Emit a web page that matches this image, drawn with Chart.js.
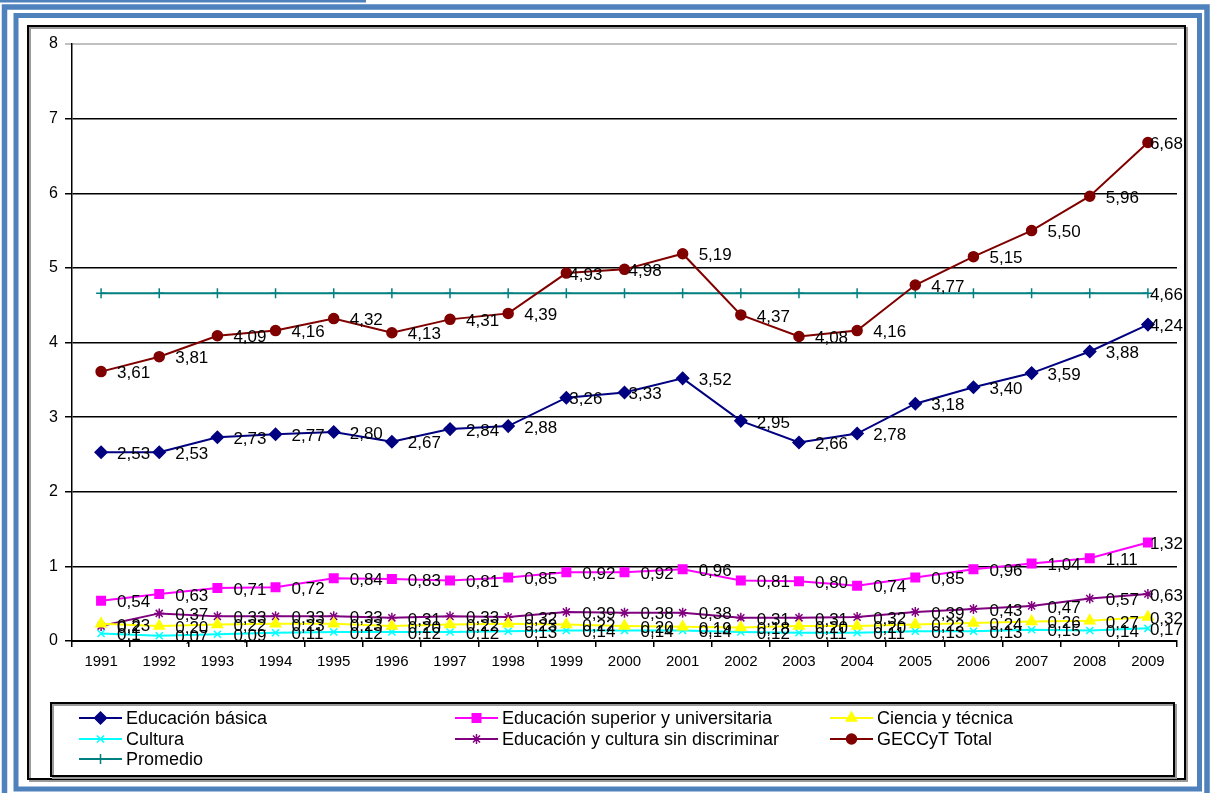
<!DOCTYPE html>
<html><head><meta charset="utf-8">
<script src="https://cdn.jsdelivr.net/npm/chart.js@4.4.0/dist/chart.umd.min.js"></script>
<style>html,body{margin:0;padding:0;background:#fff;overflow:hidden}canvas{display:block}</style>
</head><body>
<canvas id="c" width="1210" height="793"></canvas>
<script>
const years = ['1991','1992','1993','1994','1995','1996','1997','1998','1999','2000','2001','2002','2003','2004','2005','2006','2007','2008','2009'];
const yTicks = [0,1,2,3,4,5,6,7,8];
const educacionBasica = [2.53,2.53,2.73,2.77,2.80,2.67,2.84,2.88,3.26,3.33,3.52,2.95,2.66,2.78,3.18,3.40,3.59,3.88,4.24];
const educacionSuperior = [0.54,0.63,0.71,0.72,0.84,0.83,0.81,0.85,0.92,0.92,0.96,0.81,0.80,0.74,0.85,0.96,1.04,1.11,1.32];
const cienciaTecnica = [0.23,0.20,0.22,0.23,0.23,0.20,0.22,0.23,0.22,0.20,0.19,0.18,0.20,0.20,0.22,0.24,0.26,0.27,0.32];
const cultura = [0.10,0.07,0.09,0.11,0.12,0.12,0.12,0.13,0.14,0.14,0.14,0.12,0.11,0.11,0.13,0.13,0.15,0.14,0.17];
const sinDiscriminar = [0.20,0.37,0.33,0.33,0.33,0.31,0.33,0.32,0.39,0.38,0.38,0.31,0.31,0.32,0.39,0.43,0.47,0.57,0.63];
const geccytTotal = [3.61,3.81,4.09,4.16,4.32,4.13,4.31,4.39,4.93,4.98,5.19,4.37,4.08,4.16,4.77,5.15,5.50,5.96,6.68];
const promedio = [4.66,4.66,4.66,4.66,4.66,4.66,4.66,4.66,4.66,4.66,4.66,4.66,4.66,4.66,4.66,4.66,4.66,4.66,4.66];
// labels shown with one decimal (index of point)
const oneDecimalCultura = [0];
const oneDecimalSinDiscriminar = [0];

const FONT = '"Liberation Sans", Arial, sans-serif';

function mk(label, data, color, style, radius, extra) {
  return Object.assign({
    label, data,
    borderColor: color, backgroundColor: color,
    pointBackgroundColor: color, pointBorderColor: color,
    pointStyle: style, pointRadius: radius, pointHoverRadius: radius,
    pointBorderWidth: 1.5, borderWidth: 2, tension: 0, fill: false
  }, extra || {});
}

const datasets = [
  mk('Educación básica', educacionBasica, '#000080', 'rectRot', 6, {labelShift: {8: -13, 9: -12}}),
  mk('Educación superior y universitaria', educacionSuperior, '#FF00FF', 'rect', 6),
  mk('Ciencia y técnica', cienciaTecnica, '#FFFF00', 'triangle', 6),
  mk('Cultura', cultura, '#00FFFF', 'crossRot', 5, {oneDec: oneDecimalCultura}),
  mk('Educación y cultura sin discriminar', sinDiscriminar, '#800080', 'star', 5, {oneDec: oneDecimalSinDiscriminar}),
  mk('GECCyT Total', geccytTotal, '#800000', 'circle', 5, {labelShift: {8: -13, 9: -12}}),
  mk('Promedio', promedio, '#008080', 'cross', 5, {labelLast: true})
];

function fmt(v, dec) { return v.toFixed(dec).replace('.', ','); }

const framePlugin = {
  id: 'frame',
  beforeDraw(chart) {
    const ctx = chart.ctx;
    ctx.save();
    ctx.fillStyle = '#fff';
    ctx.fillRect(0, 0, chart.width, chart.height);
    ctx.fillStyle = '#4F81BD';
    ctx.fillRect(0, 0, 366, 2.5);
    ctx.strokeStyle = '#4F81BD';
    ctx.lineWidth = 5.5;
    ctx.strokeRect(4.5, 7, 1202.5, 820);
    ctx.lineWidth = 5;
    ctx.strokeRect(16, 15.5, 1183.5, 773.5);
    // chart border
    ctx.strokeStyle = '#9a9a9a';
    ctx.lineWidth = 2;
    ctx.strokeRect(30, 28, 1157, 753);
    ctx.strokeStyle = '#000';
    ctx.strokeRect(28, 26, 1157, 753);
    ctx.restore();
  },
  afterDraw(chart) {
    const ctx = chart.ctx;
    ctx.save();
    ctx.strokeStyle = '#9a9a9a';
    ctx.lineWidth = 2;
    ctx.strokeRect(53, 705, 1123, 73);
    ctx.strokeStyle = '#000';
    ctx.strokeRect(51, 703, 1123, 73);
    const colX = [79, 455, 830];
    const rowY = [718, 739, 759];
    ctx.font = '18px ' + FONT;
    ctx.textBaseline = 'middle';
    chart.data.datasets.forEach((ds, i) => {
      const x = colX[i % 3], y = rowY[Math.floor(i / 3)];
      ctx.strokeStyle = ds.borderColor;
      ctx.lineWidth = 2;
      ctx.beginPath(); ctx.moveTo(x, y); ctx.lineTo(x + 43, y); ctx.stroke();
      ctx.fillStyle = ds.pointBackgroundColor;
      ctx.strokeStyle = ds.pointBorderColor;
      ctx.lineWidth = 1.5;
      Chart.helpers.drawPoint(ctx, {pointStyle: ds.pointStyle, radius: ds.pointRadius, rotation: 0, borderWidth: 1.5}, x + 21.5, y);
      ctx.fillStyle = '#000';
      ctx.textAlign = 'left';
      ctx.fillText(ds.label, x + 47, y + 1);
    });
    ctx.restore();
  }
};

const labelPlugin = {
  id: 'vlabels',
  afterDatasetsDraw(chart) {
    const ctx = chart.ctx;
    ctx.save();
    ctx.font = '17px ' + FONT;
    ctx.fillStyle = '#000';
    ctx.textBaseline = 'middle';
    ctx.textAlign = 'left';
    chart.data.datasets.forEach((ds, i) => {
      const meta = chart.getDatasetMeta(i);
      meta.data.forEach((pt, j) => {
        if (ds.labelLast && j !== meta.data.length - 1) return;
        const dec = (ds.oneDec && ds.oneDec.includes(j)) ? 1 : 2;
        const txt = fmt(ds.data[j], dec);
        const w = ctx.measureText(txt).width;
        let x = pt.x + 16 + ((ds.labelShift && ds.labelShift[j]) || 0);
        if (x + w > 1183) x = 1183 - w;
        ctx.fillText(txt, x, pt.y + 2);
      });
    });
    ctx.restore();
  }
};

new Chart(document.getElementById('c'), {
  type: 'line',
  data: { labels: years, datasets },
  plugins: [framePlugin, labelPlugin],
  options: {
    responsive: false,
    animation: false,
    events: [],
    layout: { padding: { left: 30, right: 33, top: 44, bottom: 122 } },
    plugins: { legend: { display: false }, tooltip: { enabled: false } },
    scales: {
      x: {
        offset: true,
        afterFit(s) { s.height = 30; },
        grid: { offset: true, drawOnChartArea: false, drawTicks: true, tickLength: 6, color: '#000', lineWidth: 1.5 },
        border: { display: true, color: '#000', width: 2 },
        ticks: { color: '#000', font: { family: FONT, size: 15 }, padding: 6, maxRotation: 0, autoSkip: false }
      },
      y: {
        min: yTicks[0], max: yTicks[yTicks.length - 1],
        afterFit(s) { s.width = 42; },
        afterBuildTicks(s) { s.ticks = yTicks.map(v => ({ value: v })); },
        grid: {
          color: c => (c.tick && c.tick.value === 8) ? '#c0c0c0' : '#000',
          lineWidth: c => (c.tick && c.tick.value === 8) ? 2 : 1.5,
          tickLength: 7, drawTicks: true
        },
        border: { display: true, color: '#000', width: 1.5 },
        ticks: { color: '#000', font: { family: FONT, size: 16 }, padding: 7 }
      }
    }
  }
});
</script>
</body></html>
